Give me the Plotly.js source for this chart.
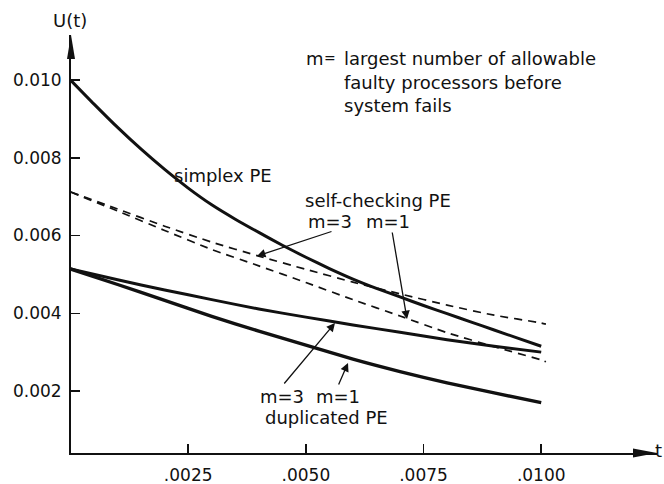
<!DOCTYPE html>
<html><head><meta charset="utf-8">
<script src="https://cdn.plot.ly/plotly-3.0.1.min.js"></script>
<style>html,body{margin:0;padding:0;background:#fff}</style>
</head><body>
<div id="chart" style="width:664px;height:484px"></div>
<script>
// ---- data ----
const tSimplex = [0,0.0005,0.001,0.0015,0.002,0.0025,0.003,0.0035,0.004,0.0045,0.005,0.0055,0.006,0.0065,0.007,0.0075,0.008,0.0085,0.009,0.0095,0.010];
const simplexPE = [0.01000,0.00938,0.00878,0.00822,0.00770,0.00722,0.00679,0.00642,0.00608,0.00575,0.00544,0.00515,0.00488,0.00464,0.00442,0.00420,0.00399,0.00378,0.00357,0.00336,0.00315];
const tDup = [0,0.001,0.002,0.003,0.004,0.005,0.006,0.007,0.008,0.009,0.010];
const duplicatedM3 = [0.00514,0.00486,0.00460,0.00435,0.00411,0.00390,0.00370,0.00351,0.00332,0.00315,0.00300];
const duplicatedM1 = [0.00514,0.00474,0.00433,0.00392,0.00354,0.00318,0.00282,0.00250,0.00221,0.00195,0.00170];
const tSelf = [0,0.001,0.002,0.003,0.004,0.005,0.006,0.007,0.008,0.009,0.010,0.0101];
const selfCheckM3 = [0.00712,0.00668,0.00624,0.00583,0.00547,0.00513,0.00480,0.00450,0.00421,0.00395,0.00375,0.00372];
const selfCheckM1 = [0.00712,0.00663,0.00613,0.00564,0.00522,0.00479,0.00435,0.00393,0.00350,0.00314,0.00280,0.00275];
const xTickVals = [0.0025,0.005,0.0075,0.010];
const xTickText = ['.0025','.0050','.0075','.0100'];
const yTickVals = [0.002,0.004,0.006,0.008,0.010];
const yTickText = ['0.002','0.004','0.006','0.008','0.010'];

// ---- layout helpers (pixel -> paper) ----
const L = 71, R = 7, T = 35, B = 31, W = 664, H = 484;
const PW = W - L - R, PH = H - T - B;
const px = x => (x - L) / PW;
const py = y => (H - B - y) / PH;
const FONT = 'DejaVu Sans, Arial, sans-serif';
const INK = '#111';

function line(x, y, w, dash) {
  return {x: x, y: y, type: 'scatter', mode: 'lines', hoverinfo: 'skip',
    line: {color: INK, width: w, dash: dash || 'solid', shape: 'spline', smoothing: 0.6}};
}
const traces = [
  line(tSimplex, simplexPE, 3),
  line(tDup, duplicatedM3, 3),
  line(tDup, duplicatedM1, 3.4),
  line(tSelf, selfCheckM3, 1.7, '8px,6px'),
  line(tSelf, selfCheckM1, 1.7, '8px,6px')
];

function txt(x, y, s, anchor, size) {
  return {xref: 'paper', yref: 'paper', x: px(x), y: py(y), text: s, showarrow: false,
    xanchor: anchor || 'center', yanchor: 'middle', font: {family: FONT, size: size || 18, color: INK}};
}
function arr(tx, ty, fx, fy) {
  return {xref: 'paper', yref: 'paper', x: px(tx), y: py(ty), ax: fx - tx, ay: fy - ty, text: '',
    showarrow: true, arrowhead: 2, arrowsize: 1.3, arrowwidth: 1.3, arrowcolor: INK, standoff: 0};
}
const annotations = [
  txt(70, 20, 'U(t)'),
  txt(664, 450, 't', 'right'),
  txt(304, 58, 'm', 'left'),
  txt(330, 58, '=', 'center', 14),
  txt(342, 58, 'largest number of allowable', 'left'),
  txt(342, 82, 'faulty processors before', 'left'),
  txt(342, 105, 'system fails', 'left'),
  txt(223, 175, 'simplex PE'),
  txt(378, 200, 'self-checking PE'),
  txt(330, 222, 'm=3'),
  txt(388, 222, 'm=1'),
  txt(282, 396, 'm=3'),
  txt(338, 396, 'm=1'),
  txt(326, 417, 'duplicated PE'),
  arr(257, 256, 333, 231),
  arr(407, 319, 392, 231),
  arr(335, 323, 283, 385),
  arr(348, 363, 338, 386)
];

const shapes = [
  {type: 'path', xref: 'paper', yref: 'paper', fillcolor: INK, line: {width: 0},
   path: `M 1 0 L ${1 - 24 / PW} ${4.5 / PH} L ${1 - 24 / PW} ${-4.5 / PH} Z`},
  {type: 'path', xref: 'paper', yref: 'paper', fillcolor: INK, line: {width: 0},
   path: `M 0 1 L ${4 / PW} ${1 - 24 / PH} L ${-4 / PW} ${1 - 24 / PH} Z`}
];

const layout = {
  width: W, height: H, margin: {l: L, r: R, t: T, b: B},
  paper_bgcolor: '#fff', plot_bgcolor: '#fff', showlegend: false,
  font: {family: FONT, size: 17, color: INK},
  xaxis: {range: [0.00001, 0.01246], showgrid: false, zeroline: false,
    showline: true, linecolor: INK, linewidth: 2,
    tickmode: 'array', tickvals: xTickVals, ticktext: xTickText,
    ticks: 'inside', ticklen: 9, tickwidth: 1.5, tickcolor: INK,
    tickfont: {family: FONT, size: 17, color: INK}, ticklabelstandoff: 6},
  yaxis: {range: [0.000405, 0.011158], showgrid: false, zeroline: false,
    showline: true, linecolor: INK, linewidth: 2,
    tickmode: 'array', tickvals: yTickVals, ticktext: yTickText,
    ticks: 'inside', ticklen: 9, tickwidth: 1.5, tickcolor: INK,
    tickfont: {family: FONT, size: 17, color: INK}, ticklabelstandoff: 4},
  annotations: annotations,
  shapes: shapes
};
Plotly.newPlot('chart', traces, layout, {displayModeBar: false, staticPlot: true});
</script>
</body></html>
